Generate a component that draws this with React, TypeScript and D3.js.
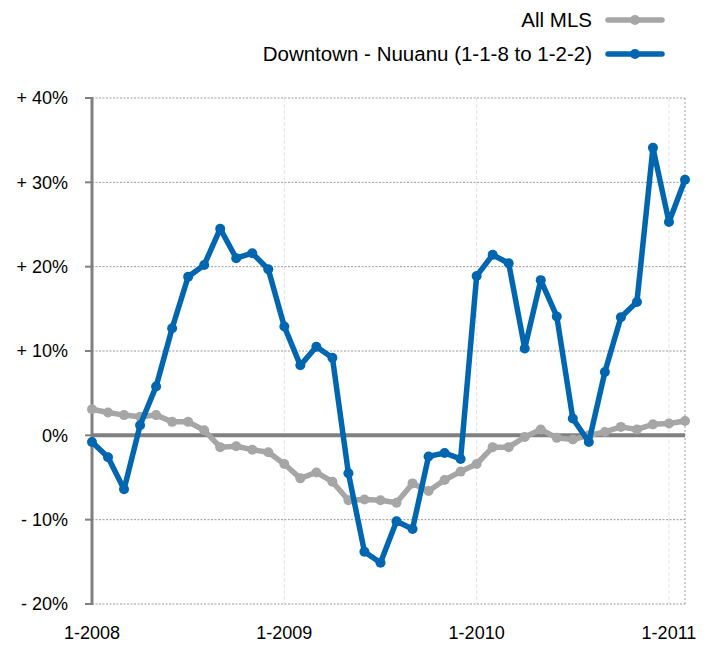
import React from "react";
import * as d3 from "d3";

const months: string[] = Array.from({ length: 38 }, (_, i) => {
  const y = 2008 + Math.floor(i / 12);
  const m = (i % 12) + 1;
  return `${m}-${y}`;
});

const allMLS: number[] = [
  3.1, 2.7, 2.4, 2.2, 2.4, 1.6, 1.6, 0.6, -1.4, -1.3, -1.7, -2.0,
  -3.4, -5.1, -4.4, -5.5, -7.7, -7.6, -7.7, -8.0, -5.7, -6.6, -5.3, -4.3,
  -3.4, -1.4, -1.4, -0.2, 0.7, -0.3, -0.5, 0.0, 0.4, 1.0, 0.7, 1.3,
  1.4, 1.7,
];

const downtown: number[] = [
  -0.8, -2.6, -6.4, 1.2, 5.8, 12.7, 18.8, 20.2, 24.5, 21.0, 21.6, 19.7,
  12.9, 8.3, 10.5, 9.2, -4.5, -13.8, -15.1, -10.2, -11.1, -2.5, -2.1, -2.8,
  18.9, 21.4, 20.4, 10.3, 18.4, 14.1, 2.0, -0.8, 7.5, 14.0, 15.8, 34.1,
  25.3, 30.3,
];

const yTicks: number[] = [40, 30, 20, 10, 0, -10, -20];
const yTickLabels: string[] = ["+ 40%", "+ 30%", "+ 20%", "+ 10%", "0%", "- 10%", "- 20%"];
const xTickIdx: number[] = [0, 12, 24, 36];
const xTickLabels: string[] = ["1-2008", "1-2009", "1-2010", "1-2011"];

const seriesNames: string[] = ["All MLS", "Downtown - Nuuanu (1-1-8 to 1-2-2)"];
const seriesColors: string[] = ["#a6a6a6", "#0066b0"];

export default function App() {
  const W = 709, H = 645;
  const left = 92, right = 685, top = 98, bottom = 604;
  const x = d3.scaleLinear().domain([0, months.length - 1]).range([left, right]);
  const y = d3.scaleLinear().domain([-20, 40]).range([bottom, top]);
  const line = d3
    .line<number>()
    .x((_, i) => x(i))
    .y((d) => y(d));
  const font = "'Liberation Sans', Arial, Helvetica, sans-serif";
  const series = [allMLS, downtown];
  return (
    <svg
      width={W}
      height={H}
      style={{ position: "absolute", left: 0, top: 0, background: "#fff" }}
      fontFamily={font}
    >
      {xTickIdx.slice(1).map((i) => (
        <line
          key={"vg" + i}
          x1={x(i)}
          x2={x(i)}
          y1={top}
          y2={bottom}
          stroke="#e2e2e2"
          strokeWidth={1}
          strokeDasharray="4,2"
        />
      ))}
      <line x1={right} x2={right} y1={top} y2={bottom} stroke="#b0b0b0" strokeWidth={1.2} strokeDasharray="2,2" />
      {yTicks.filter((t) => t !== 0).map((t) => (
        <line
          key={"hg" + t}
          x1={left}
          x2={right}
          y1={y(t)}
          y2={y(t)}
          stroke="#999"
          strokeWidth={1}
          strokeDasharray="2,1.5"
        />
      ))}
      <line x1={left} x2={right} y1={y(0)} y2={y(0)} stroke="#808080" strokeWidth={4} />
      <line x1={left} x2={left} y1={top - 1} y2={bottom + 1} stroke="#808080" strokeWidth={3} />
      {yTicks.map((t) => (
        <line key={"yt" + t} x1={left - 7} x2={left} y1={y(t)} y2={y(t)} stroke="#808080" strokeWidth={2} />
      ))}
      {yTicks.map((t, i) => (
        <text
          key={"yl" + t}
          x={68}
          y={y(t)}
          dy="0.35em"
          textAnchor="end"
          fontSize={18}
          fill="#000"
        >
          {yTickLabels[i]}
        </text>
      ))}
      {xTickIdx.map((i, k) => (
        <text key={"xl" + i} x={x(i)} y={639} textAnchor="middle" fontSize={18} fill="#000">
          {xTickLabels[k]}
        </text>
      ))}
      {series.map((s, si) => (
        <g key={"s" + si}>
          <path d={line(s) || ""} fill="none" stroke={seriesColors[si]} strokeWidth={5.5} strokeLinejoin="round" strokeLinecap="round" />
          {s.map((v, i) => (
            <circle key={i} cx={x(i)} cy={y(v)} r={5} fill={seriesColors[si]} />
          ))}
        </g>
      ))}
      {seriesNames.map((n, i) => {
        const ly = 20 + i * 34;
        return (
          <g key={"lg" + i}>
            <text x={592} y={ly} dy="0.36em" textAnchor="end" fontSize={20.5} fill="#000">
              {n}
            </text>
            <line x1={608} x2={662} y1={ly} y2={ly} stroke={seriesColors[i]} strokeWidth={5.5} strokeLinecap="round" />
            <circle cx={635} cy={ly} r={5} fill={seriesColors[i]} />
          </g>
        );
      })}
    </svg>
  );
}
